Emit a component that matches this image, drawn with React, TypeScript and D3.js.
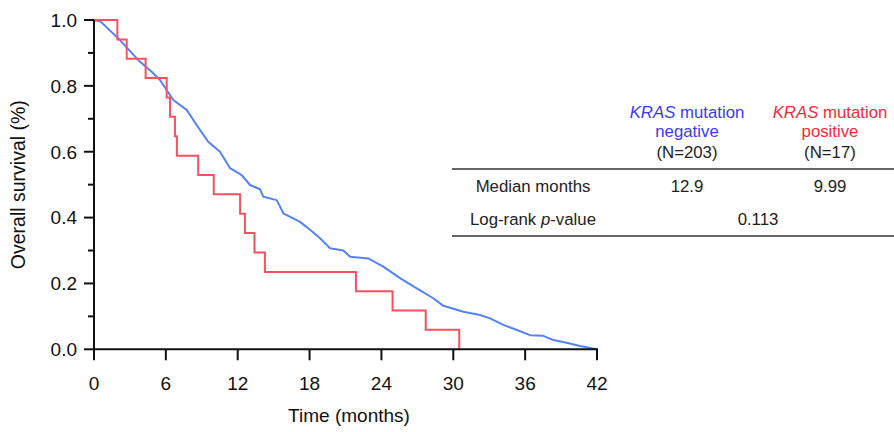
import React from "react";
import * as d3 from "d3";

// ---- Data ----
const blueTimes = [0, 0.56, 2.03, 3.7, 4.82, 5.51, 6.62, 7.74, 8.57, 9.54, 10.52, 11.36, 12.33, 13.03, 13.86, 14.14, 15.26, 15.81, 17.2, 18.04, 18.87, 19.71, 20.82, 21.38, 22.9, 24.16, 25.55, 26.95, 28.33, 29.17, 30.84, 32.23, 33.07, 34.18, 35.15, 36.41, 37.52, 38.35, 39.47, 40.58, 41.98];
const blueSurv = [1.0, 0.995, 0.944, 0.878, 0.843, 0.818, 0.757, 0.727, 0.681, 0.63, 0.6, 0.55, 0.529, 0.499, 0.486, 0.463, 0.453, 0.413, 0.387, 0.363, 0.337, 0.307, 0.3, 0.281, 0.276, 0.251, 0.216, 0.185, 0.155, 0.132, 0.114, 0.104, 0.094, 0.074, 0.061, 0.043, 0.041, 0.028, 0.02, 0.01, 0.0];

const redTimes = [0, 1.95, 2.73, 4.31, 6.07, 6.35, 6.76, 6.92, 8.7, 10.0, 12.2, 12.6, 13.4, 14.27, 21.87, 24.93, 27.7, 30.5];
const redSurv = [1.0, 0.941, 0.882, 0.824, 0.765, 0.706, 0.647, 0.588, 0.529, 0.471, 0.412, 0.353, 0.294, 0.235, 0.176, 0.118, 0.059, 0.0];

const xTicks = [0, 6, 12, 18, 24, 30, 36, 42];
const yTicks = [0, 0.2, 0.4, 0.6, 0.8, 1.0];
const yMinorTicks = [0.1, 0.3, 0.5, 0.7, 0.9];

const groupNames = ["negative", "positive"];
const groupN = ["(N=203)", "(N=17)"];
const medianMonths = ["12.9", "9.99"];
const pValue = "0.113";

const BLUE_LINE = "#5383f7";
const RED_LINE = "#f9505f";
const BLUE_TEXT = "#3a3af5";
const RED_TEXT = "#f52a35";
const FONT = "'Liberation Sans', Arial, Helvetica, sans-serif";

export default function App() {
  const x = d3.scaleLinear().domain([0, 42]).range([94, 597]);
  const y = d3.scaleLinear().domain([0, 1]).range([349.3, 20]);

  const blueData: [number, number][] = blueTimes.map((t, i) => [t, blueSurv[i]]);
  const redData: [number, number][] = redTimes.map((t, i) => [t, redSurv[i]]);

  const lineLin = d3
    .line<[number, number]>()
    .x((d) => x(d[0]))
    .y((d) => y(d[1]))
    .curve(d3.curveLinear);
  const lineStep = d3
    .line<[number, number]>()
    .x((d) => x(d[0]))
    .y((d) => y(d[1]))
    .curve(d3.curveStepAfter);

  const colCenters = [687, 830];
  const colColors = [BLUE_TEXT, RED_TEXT];

  return (
    <svg
      width={894}
      height={432}
      style={{ position: "absolute", left: 0, top: 0, background: "#fff" }}
      fontFamily={FONT}
    >
      {/* curves */}
      <path d={lineLin(blueData) || ""} fill="none" stroke={BLUE_LINE} strokeWidth={2} strokeLinejoin="round" />
      <path d={lineStep(redData) || ""} fill="none" stroke={RED_LINE} strokeWidth={2} />

      {/* y axis */}
      <line x1={x(0)} x2={x(0)} y1={y(1)} y2={y(0)} stroke="#111" strokeWidth={2} />
      {yTicks.map((t) => (
        <g key={"yt" + t}>
          <line x1={x(0) - 10} x2={x(0)} y1={y(t)} y2={y(t)} stroke="#111" strokeWidth={2} />
          <text x={77} y={y(t)} dy="0.36em" textAnchor="end" fontSize={19} fill="#111">
            {t.toFixed(1)}
          </text>
        </g>
      ))}
      {yMinorTicks.map((t) => (
        <line key={"ym" + t} x1={x(0) - 6} x2={x(0)} y1={y(t)} y2={y(t)} stroke="#111" strokeWidth={2} />
      ))}

      {/* x axis */}
      <line x1={x(0) - 1} x2={x(42) + 1} y1={y(0)} y2={y(0)} stroke="#111" strokeWidth={2} />
      {xTicks.map((t) => (
        <g key={"xt" + t}>
          <line x1={x(t)} x2={x(t)} y1={y(0)} y2={y(0) + 11} stroke="#111" strokeWidth={2} />
          <text x={x(t)} y={390} textAnchor="middle" fontSize={19} fill="#111">
            {t}
          </text>
        </g>
      ))}

      {/* axis titles */}
      <text x={349} y={422} textAnchor="middle" fontSize={19} fill="#111">
        Time (months)
      </text>
      <text
        transform={`translate(25, ${(y(0) + y(1)) / 2}) rotate(-90)`}
        textAnchor="middle"
        fontSize={19.5}
        fill="#111"
      >
        Overall survival (%)
      </text>

      {/* table */}
      {colCenters.map((cx, i) => (
        <g key={"col" + i} fontSize={16.8} textAnchor="middle">
          <text x={cx} y={118} fill={colColors[i]}>
            <tspan fontStyle="italic">KRAS</tspan> mutation
          </text>
          <text x={cx} y={137} fill={colColors[i]}>
            {groupNames[i]}
          </text>
          <text x={cx} y={158} fill="#222">
            {groupN[i]}
          </text>
          <text x={cx} y={191.5} fill="#222">
            {medianMonths[i]}
          </text>
        </g>
      ))}
      <line x1={452} x2={894} y1={169} y2={169} stroke="#333" strokeWidth={1.5} />
      <line x1={452} x2={894} y1={236} y2={236} stroke="#333" strokeWidth={1.5} />
      <text x={533} y={191.5} textAnchor="middle" fontSize={16.8} fill="#222">
        Median months
      </text>
      <text x={533} y={225} textAnchor="middle" fontSize={16.8} fill="#222">
        Log-rank <tspan fontStyle="italic">p</tspan>-value
      </text>
      <text x={758} y={225} textAnchor="middle" fontSize={16.8} fill="#222">
        {pValue}
      </text>
    </svg>
  );
}
